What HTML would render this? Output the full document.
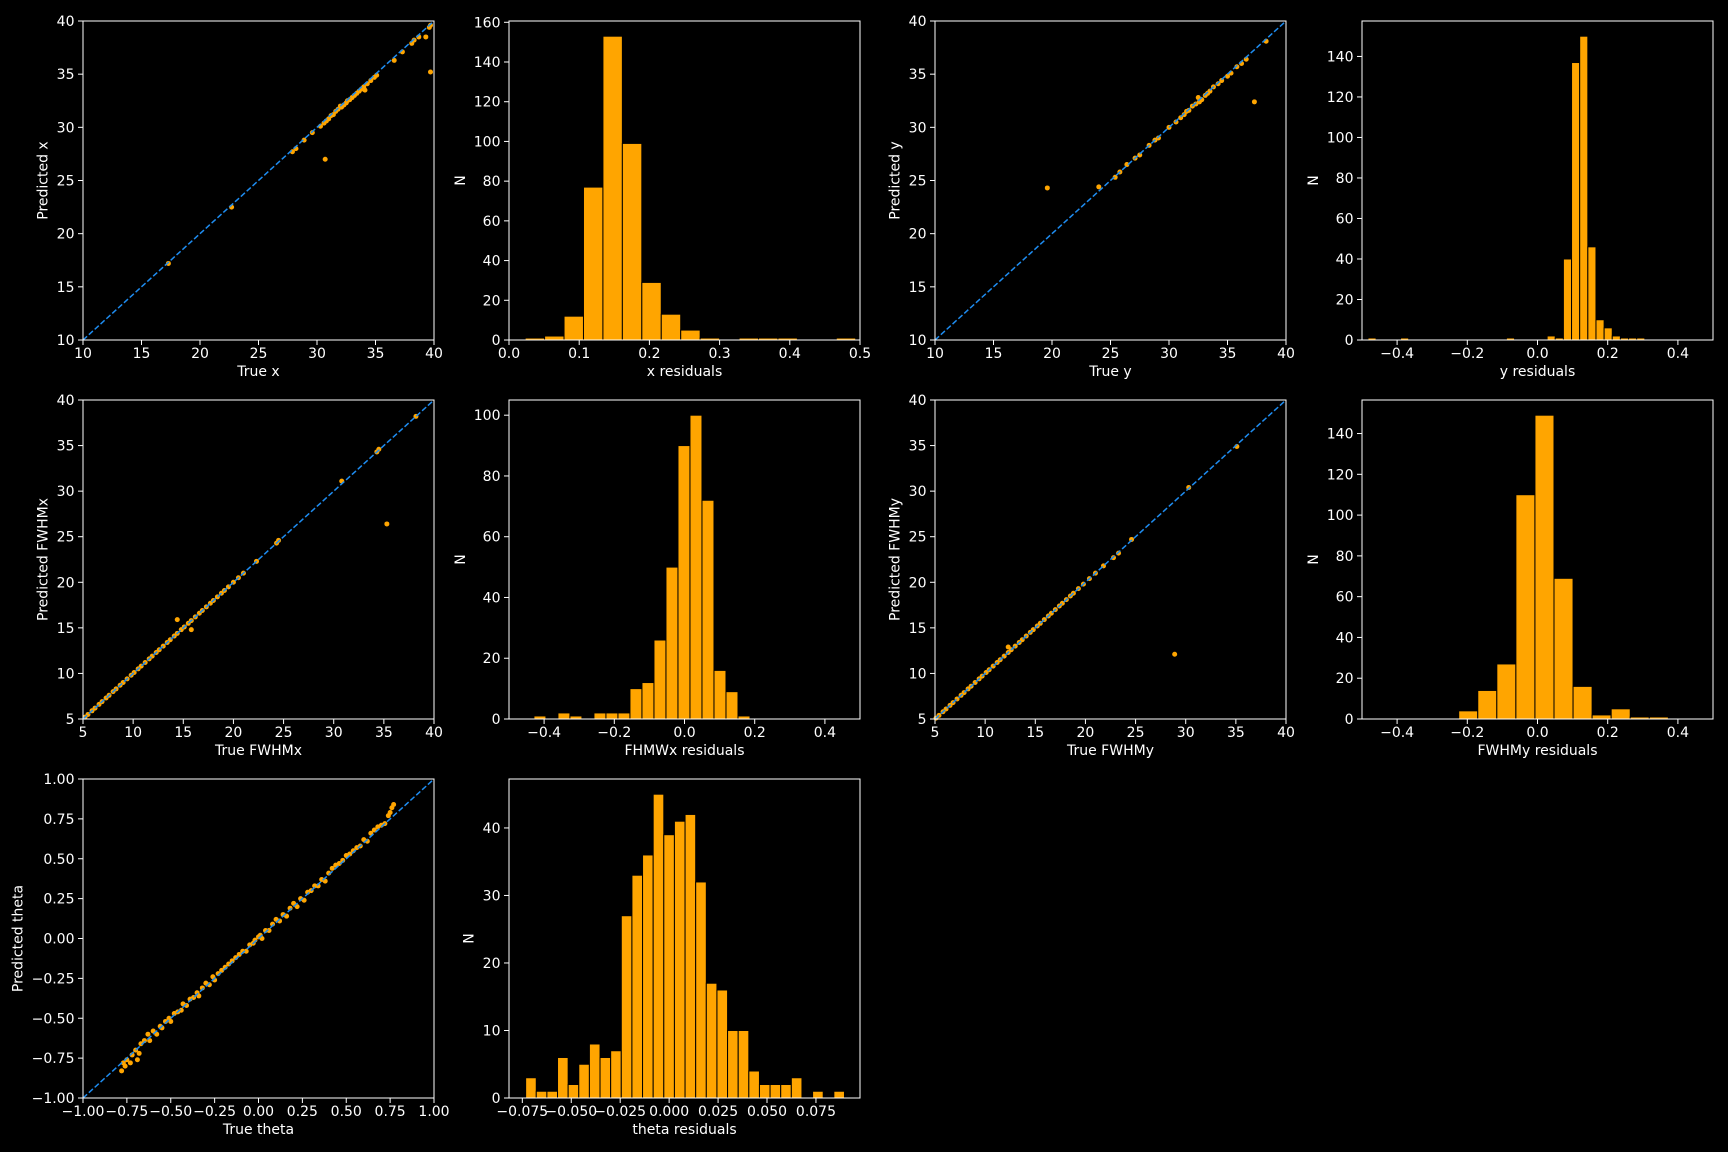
<!DOCTYPE html>
<html><head><meta charset="utf-8">
<style>
html,body{margin:0;padding:0;background:#000;}
svg{display:block;font-family:"DejaVu Sans","Liberation Sans",sans-serif;}
</style></head>
<body>
<svg id="fig" width="1728" height="1152" viewBox="0 0 1728 1152">
<rect width="1728" height="1152" fill="#000"/>
</svg>
<script>
// ---- data ----
const xTrue=[17.3,22.7,27.9,28.2,28.9,29.6,30.3,30.6,30.7,30.8,31.0,31.2,31.4,31.6,31.8,32.0,32.1,32.3,32.5,32.6,32.8,33.0,33.2,33.4,33.6,33.8,34.0,34.1,34.3,34.6,34.9,35.1,36.6,37.3,38.1,38.3,38.7,39.3,39.6,39.7,39.7];
const xPred=[17.2,22.5,27.7,28.0,28.8,29.5,30.1,30.4,27.0,30.6,30.8,31.1,31.2,31.5,31.7,32.0,31.9,32.1,32.3,32.5,32.6,32.8,33.0,33.2,33.4,33.6,33.8,33.5,34.1,34.4,34.7,34.9,36.3,37.1,37.9,38.2,38.5,38.5,39.4,39.6,35.2];
const yTrue=[19.6,24.0,25.4,25.8,26.4,27.1,27.5,28.3,28.8,29.1,30.0,30.6,31.0,31.3,31.5,31.7,32.0,32.3,32.5,32.6,32.8,33.1,33.3,33.5,33.8,34.2,34.5,35.0,35.3,35.8,36.2,36.6,37.3,38.3];
const yPred=[24.3,24.4,25.3,25.8,26.5,27.1,27.4,28.3,28.8,29.0,30.0,30.5,30.9,31.2,31.5,31.6,32.0,32.2,32.8,32.4,32.6,33.0,33.2,33.4,33.8,34.1,34.4,34.8,35.1,35.7,36.0,36.4,32.4,38.1];
const fxTrue=[5.2,5.5,5.9,6.2,6.6,6.9,7.3,7.6,8.0,8.3,8.7,9.0,9.4,9.8,10.1,10.5,10.8,11.2,11.6,11.9,12.3,12.6,13.0,13.4,13.7,14.1,14.4,14.4,14.8,15.1,15.5,15.8,15.8,16.2,16.6,16.9,17.3,17.7,18.0,18.4,18.8,19.1,19.5,20.0,20.5,21.0,22.3,24.3,24.5,30.8,34.3,34.5,35.3,38.2];
const fxPred=[5.2,5.5,5.9,6.2,6.6,6.9,7.3,7.6,8.0,8.3,8.7,9.0,9.4,9.8,10.1,10.5,10.8,11.2,11.6,11.9,12.3,12.6,13.0,13.4,13.7,14.1,14.4,15.9,14.8,15.1,15.5,15.8,14.8,16.2,16.6,16.9,17.3,17.7,18.0,18.4,18.8,19.1,19.5,20.0,20.5,21.0,22.3,24.3,24.6,31.1,34.3,34.6,26.4,38.2];
const fyTrue=[5.1,5.4,5.8,6.1,6.5,6.8,7.2,7.6,7.9,8.3,8.6,9.0,9.4,9.7,10.1,10.4,10.8,11.2,11.5,11.9,12.3,12.3,12.6,13.0,13.4,13.7,14.1,14.5,14.8,15.2,15.5,15.9,16.3,16.6,17.0,17.4,17.7,18.1,18.5,18.8,19.3,19.8,20.4,21.0,21.8,22.8,23.3,24.6,28.9,30.3,35.1];
const fyPred=[5.1,5.4,5.8,6.1,6.5,6.8,7.2,7.6,7.9,8.3,8.6,9.0,9.4,9.7,10.1,10.4,10.8,11.2,11.5,11.9,12.3,12.9,12.6,13.0,13.4,13.7,14.1,14.5,14.8,15.2,15.5,15.9,16.3,16.6,17.0,17.4,17.7,18.1,18.5,18.8,19.3,19.8,20.4,21.0,21.8,22.7,23.2,24.7,12.1,30.4,34.9];
const tTrue=[-0.78,-0.77,-0.76,-0.75,-0.73,-0.72,-0.70,-0.69,-0.68,-0.67,-0.65,-0.63,-0.62,-0.60,-0.58,-0.56,-0.55,-0.53,-0.51,-0.50,-0.48,-0.46,-0.44,-0.43,-0.41,-0.39,-0.37,-0.35,-0.34,-0.32,-0.30,-0.28,-0.26,-0.25,-0.23,-0.21,-0.19,-0.17,-0.15,-0.13,-0.11,-0.09,-0.07,-0.05,-0.03,-0.02,0.00,0.01,0.02,0.04,0.06,0.08,0.10,0.12,0.14,0.16,0.18,0.20,0.22,0.24,0.26,0.28,0.30,0.32,0.34,0.36,0.38,0.40,0.42,0.44,0.46,0.48,0.50,0.52,0.54,0.56,0.58,0.60,0.62,0.64,0.66,0.68,0.70,0.72,0.74,0.75,0.76,0.77];
const tPred=[-0.83,-0.78,-0.80,-0.76,-0.78,-0.73,-0.70,-0.76,-0.72,-0.66,-0.64,-0.60,-0.64,-0.58,-0.60,-0.55,-0.56,-0.52,-0.50,-0.52,-0.47,-0.46,-0.45,-0.41,-0.42,-0.38,-0.37,-0.34,-0.36,-0.31,-0.28,-0.29,-0.24,-0.26,-0.22,-0.20,-0.18,-0.16,-0.14,-0.12,-0.10,-0.08,-0.08,-0.04,-0.03,-0.01,0.01,0.02,0.00,0.05,0.05,0.09,0.12,0.11,0.15,0.14,0.19,0.22,0.20,0.25,0.24,0.29,0.30,0.33,0.33,0.37,0.36,0.41,0.44,0.46,0.47,0.49,0.52,0.53,0.55,0.57,0.58,0.62,0.61,0.66,0.68,0.70,0.71,0.72,0.77,0.79,0.82,0.84];
const xrCounts=[1,2,12,77,153,99,29,13,5,1,0,1,1,1,0,0,1];
const yrCounts=[1,0,0,0,1,0,0,0,0,0,0,0,0,0,0,0,0,1,0,0,0,0,2,1,40,137,150,46,10,6,2,1,1,1];
const fxrCounts=[1,0,2,1,0,2,2,2,10,12,26,50,90,100,72,16,9,1];
const fyrCounts=[4,14,27,110,149,69,16,2,5,1,1];
const trCounts=[3,1,1,6,2,5,8,6,7,27,33,36,45,39,41,42,32,17,16,10,10,4,2,2,2,3,0,1,0,1];
const scatterTicks10=[10,15,20,25,30,35,40];
const scatterTicks5=[5,10,15,20,25,30,35,40];
const thetaTicks=[-1,-0.75,-0.5,-0.25,0,0.25,0.5,0.75,1];
const thetaTickLabels=["−1.00","−0.75","−0.50","−0.25","0.00","0.25","0.50","0.75","1.00"];
const resTicks=[-0.4,-0.2,0,0.2,0.4];
const resTickLabels=["−0.4","−0.2","0.0","0.2","0.4"];
const xrTicks=[0,0.1,0.2,0.3,0.4,0.5];
const xrTickLabels=["0.0","0.1","0.2","0.3","0.4","0.5"];
const trTicks=[-0.075,-0.05,-0.025,0,0.025,0.05,0.075];
const trTickLabels=["−0.075","−0.050","−0.025","0.000","0.025","0.050","0.075"];

// ---- layout ----
const NS="http://www.w3.org/2000/svg";
const svg=document.getElementById('fig');
const COLS=[83,509,935,1362], ROWS=[21,400,779], W=351, H=319;
const FG="#ffffff", ORANGE="#ffa500", BLUE="#1e8cf0";
function mk(tag,attrs,parent){const e=document.createElementNS(NS,tag);for(const k in attrs)e.setAttribute(k,attrs[k]);(parent||svg).appendChild(e);return e;}

function axes(name,col,row,xmin,xmax,ymin,ymax,xt,xtl,yt,ytl,xlabel,ylabel){
  const L=COLS[col],T=ROWS[row];
  const g=mk('g',{});
  
  
  const sx=v=>L+(v-xmin)/(xmax-xmin)*W;
  const sy=v=>T+H-(v-ymin)/(ymax-ymin)*H;
  const plot=mk('g',{},g);
  
  
  const xg=mk('g',{},g);
  
  
  xt.forEach((v,i)=>{const x=sx(v);
    mk('line',{x1:x,x2:x,y1:T+H,y2:T+H+5,stroke:FG,'stroke-width':1},xg);
    const t=mk('text',{x:x,y:T+H+18,'text-anchor':'middle','font-size':14,fill:FG},xg);
    t.textContent=xtl?xtl[i]:String(v);
    
    });
  const xl=mk('text',{x:L+W/2,y:T+H+36,'text-anchor':'middle','font-size':14,fill:FG},xg);
  xl.textContent=xlabel;
  
  
  const yg=mk('g',{},g);
  
  
  let maxw=0;
  yt.forEach((v,i)=>{const y=sy(v);
    mk('line',{x1:L-5,x2:L,y1:y,y2:y,stroke:FG,'stroke-width':1},yg);
    const t=mk('text',{x:L-8.5,y:y+5,'text-anchor':'end','font-size':14,fill:FG},yg);
    t.textContent=ytl?ytl[i]:String(v);
    
    
    maxw=Math.max(maxw,t.getComputedTextLength());});
  const yx=L-8.5-maxw-9;
  const yl=mk('text',{x:yx,y:T+H/2,'text-anchor':'middle','font-size':14,fill:FG,transform:`rotate(-90 ${yx} ${T+H/2})`},yg);
  yl.textContent=ylabel;
  
  
  const fr=mk('rect',{x:L,y:T,width:W,height:H,fill:'none',stroke:FG,'stroke-width':1},g);
  
  
  return {sx,sy,plot,L,T};
}

function scatter(name,col,row,lo,hi,ticks,tl,xs,ys,xlabel,ylabel){
  const a=axes(name,col,row,lo,hi,lo,hi,ticks,tl,ticks,tl,xlabel,ylabel);
  xs.forEach((v,i)=>{
    const c=mk('circle',{cx:a.sx(v),cy:a.sy(ys[i]),r:2.5,fill:ORANGE},a.plot);
    
    
  });
  const ln=mk('line',{x1:a.sx(lo),y1:a.sy(lo),x2:a.sx(hi),y2:a.sy(hi),stroke:BLUE,'stroke-width':1.5,'stroke-dasharray':'5.5 2.4'},a.plot);
  
  
}

function hist(name,col,row,xmin,xmax,ymax,start,width,counts,xt,xtl,yt,xlabel){
  const a=axes(name,col,row,xmin,xmax,0,ymax,xt,xtl,yt,null,xlabel,'N');
  counts.forEach((c,i)=>{ if(c<=0) return;
    const x0=a.sx(start+i*width), x1=a.sx(start+(i+1)*width);
    const r=mk('rect',{x:x0,y:a.sy(c),width:x1-x0,height:a.sy(0)-a.sy(c),fill:ORANGE,stroke:'#000','stroke-width':1},a.plot);
    
    
  });
}

scatter('x-scatter',0,0,10,40,scatterTicks10,null,xTrue,xPred,'True x','Predicted x');
hist('x-residuals-hist',1,0,0,0.5,160.65,0.023,0.0277,xrCounts,xrTicks,xrTickLabels,[0,20,40,60,80,100,120,140,160],'x residuals');
scatter('y-scatter',2,0,10,40,scatterTicks10,null,yTrue,yPred,'True y','Predicted y');
hist('y-residuals-hist',3,0,-0.5,0.5,157.5,-0.483,0.0232,yrCounts,resTicks,resTickLabels,[0,20,40,60,80,100,120,140],'y residuals');
scatter('fwhmx-scatter',0,1,5,40,scatterTicks5,null,fxTrue,fxPred,'True FWHMx','Predicted FWHMx');
hist('fwhmx-residuals-hist',1,1,-0.5,0.5,105,-0.429,0.0342,fxrCounts,resTicks,resTickLabels,[0,20,40,60,80,100],'FHMWx residuals');
scatter('fwhmy-scatter',2,1,5,40,scatterTicks5,null,fyTrue,fyPred,'True FWHMy','Predicted FWHMy');
hist('fwhmy-residuals-hist',3,1,-0.5,0.5,156.45,-0.2245,0.0543,fyrCounts,resTicks,resTickLabels,[0,20,40,60,80,100,120,140],'FWHMy residuals');
scatter('theta-scatter',0,2,-1,1,thetaTicks,thetaTickLabels,tTrue,tPred,'True theta','Predicted theta');
hist('theta-residuals-hist',1,2,-0.0818,0.0975,47.25,-0.0733,0.005429,trCounts,trTicks,trTickLabels,[0,10,20,30,40],'theta residuals');
</script>
</body></html>
